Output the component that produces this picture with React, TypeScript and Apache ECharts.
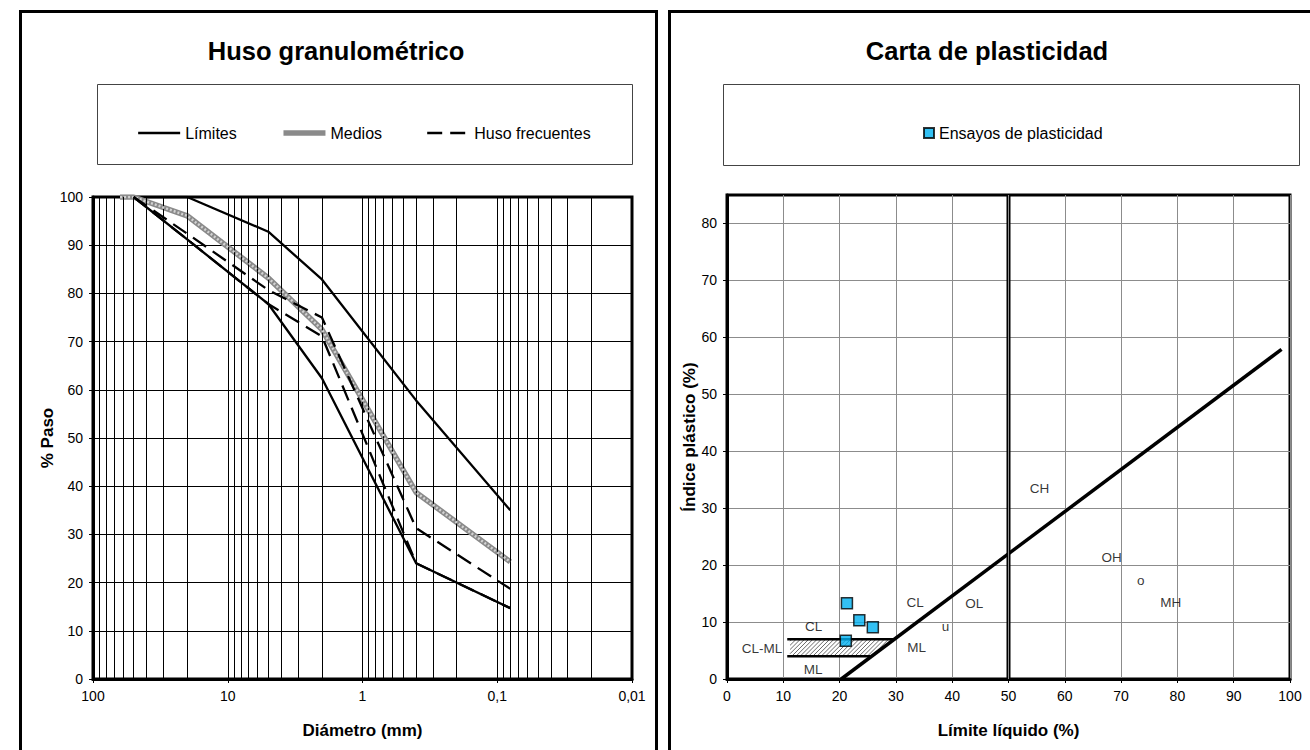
import React, { useEffect, useRef } from "react";
import * as echarts from "echarts";

// ---------------- Huso granulométrico ----------------
const diamGridLines = [
  90, 80, 70, 60, 50, 40, 30, 20, 10,
  9, 8, 7, 6, 5, 4, 3, 2, 1,
  0.9, 0.8, 0.7, 0.6, 0.5, 0.4, 0.3, 0.2, 0.1,
  0.09, 0.08, 0.07, 0.06, 0.05, 0.04, 0.03, 0.02,
];

const limSupDiam = [50, 20, 5, 2, 0.4, 0.08];
const limSupPaso = [100, 100, 92.8, 82.9, 57.8, 35.0];
const limInfDiam = [50, 20, 5, 2, 0.4, 0.08];
const limInfPaso = [100, 91.2, 77.8, 62.4, 24.0, 14.7];
const mediosDiam = [63, 50, 20, 5, 2, 0.4, 0.08];
const mediosPaso = [100, 100, 96.1, 83.2, 72.5, 38.7, 24.3];
const frecSupDiam = [50, 20, 5, 2, 0.4, 0.08];
const frecSupPaso = [100, 92.4, 80.7, 75.0, 31.3, 18.7];
const frecInfDiam = [50, 20, 5, 2, 0.4, 0.08];
const frecInfPaso = [100, 91.2, 77.8, 71.1, 24.0, 14.7];

// ---------------- Carta de plasticidad ----------------
const ensayosLL = [21.3, 23.5, 25.9, 21.1];
const ensayosIP = [13.3, 10.3, 9.1, 6.7];
const lineaALL = [20.3, 98.5];
const lineaAIP = [0, 57.9];
const ll50LL = [50, 50];
const ll50IP = [0, 85];
const clmlSupLL = [10.7, 29.6];
const clmlSupIP = [7, 7];
const clmlInfLL = [10.7, 25.5];
const clmlInfIP = [4, 4];
const hatchLL = [11.2, 25.5, 29.6, 11.2];
const hatchIP = [4, 4, 7, 7];
const zoneNames = ["CL", "OL", "u", "ML", "CH", "OH", "o", "MH", "CL", "CL-ML", "ML"];
const zoneLL = [33.4, 43.9, 38.8, 33.7, 55.5, 68.3, 73.5, 78.8, 15.4, 6.2, 15.3];
const zoneIP = [13.4, 13.3, 9.2, 5.5, 33.5, 21.4, 17.3, 13.5, 9.2, 5.4, 1.6];
const ipTicks = [0, 10, 20, 30, 40, 50, 60, 70, 80];

const FONT = "'Liberation Sans', Arial, Helvetica, sans-serif";

const zip = (a: number[], b: number[]) => a.map((v, i) => [v, b[i]]);

function clipToPoly(p0: number[], p1: number[], poly: number[][]) {
  const n = poly.length;
  let area = 0;
  for (let i = 0; i < n; i++) {
    const a = poly[i];
    const b = poly[(i + 1) % n];
    area += a[0] * b[1] - b[0] * a[1];
  }
  const s = area > 0 ? 1 : -1;
  let t0 = 0;
  let t1 = 1;
  const dx = p1[0] - p0[0];
  const dy = p1[1] - p0[1];
  for (let i = 0; i < n; i++) {
    const a = poly[i];
    const b = poly[(i + 1) % n];
    const ex = b[0] - a[0];
    const ey = b[1] - a[1];
    const num = s * (ex * (p0[1] - a[1]) - ey * (p0[0] - a[0]));
    const den = s * (ex * dy - ey * dx);
    if (Math.abs(den) < 1e-9) {
      if (num < 0) return null;
      continue;
    }
    const t = -num / den;
    if (den > 0) t0 = Math.max(t0, t);
    else t1 = Math.min(t1, t);
    if (t0 > t1) return null;
  }
  return [
    [p0[0] + t0 * dx, p0[1] + t0 * dy],
    [p0[0] + t1 * dx, p0[1] + t1 * dy],
  ];
}

const fmtDiam = (v: number) => {
  const s = v >= 1 ? String(Math.round(v)) : String(parseFloat(v.toPrecision(3)));
  return s.replace(".", ",");
};

export default function App() {
  const ref = useRef<HTMLDivElement>(null);

  useEffect(() => {
    if (!ref.current) return;
    const chart = echarts.init(ref.current, undefined, { renderer: "svg" });

    const axisLabelStyle = { color: "#000", fontSize: 14, fontFamily: FONT };
    const axisNameStyle = { color: "#000", fontSize: 17, fontWeight: "bold" as const, fontFamily: FONT };

    const option: any = {
      animation: false,
      backgroundColor: "#fff",
      textStyle: { fontFamily: FONT, color: "#000" },
      graphic: [
        { type: "rect", shape: { x: 20.5, y: 11.5, width: 636, height: 740 }, style: { fill: "none", stroke: "#000", lineWidth: 3 }, silent: true },
        { type: "rect", shape: { x: 669.5, y: 11.5, width: 660, height: 740 }, style: { fill: "none", stroke: "#000", lineWidth: 3 }, silent: true },
        { type: "rect", shape: { x: 97.5, y: 84.5, width: 535, height: 80 }, style: { fill: "none", stroke: "#444", lineWidth: 1 }, silent: true },
        { type: "rect", shape: { x: 723.5, y: 84.5, width: 576, height: 81 }, style: { fill: "none", stroke: "#444", lineWidth: 1 }, silent: true },
        { type: "text", x: 336, y: 51, style: { text: "Huso granulométrico", fill: "#000", fontSize: 25.5, fontWeight: "bold", fontFamily: FONT, align: "center", verticalAlign: "middle" } },
        { type: "text", x: 987, y: 51, style: { text: "Carta de plasticidad", fill: "#000", fontSize: 25.5, fontWeight: "bold", fontFamily: FONT, align: "center", verticalAlign: "middle" } },
      ],
      legend: [
        {
          left: 137,
          top: 125,
          padding: 0,
          itemWidth: 42,
          itemHeight: 14,
          itemGap: 44,
          data: [
            { name: "Límites", lineStyle: { color: "#000", width: 2.3, type: "solid" } },
            { name: "Medios", lineStyle: { color: "#8a8a8a", width: 5.5, type: "solid" } },
            { name: "Huso frecuentes", lineStyle: { color: "#000", width: 2.3, type: [15, 8] } },
          ],
          itemStyle: { opacity: 0 },
          textStyle: { color: "#000", fontSize: 16, fontFamily: FONT },
          selectedMode: false,
        },
        {
          left: 923,
          top: 125,
          padding: 0,
          itemWidth: 10,
          itemHeight: 10,
          icon: "rect",
          data: ["Ensayos de plasticidad"],
          textStyle: { color: "#000", fontSize: 16, fontFamily: FONT },
          selectedMode: false,
        },
      ],
      grid: [
        { left: 93, top: 197, width: 539, height: 482, show: true, borderColor: "#000", borderWidth: 3, backgroundColor: "transparent" },
        { left: 727, top: 195, width: 563, height: 484, show: true, borderColor: "#000", borderWidth: 3, backgroundColor: "transparent" },
      ],
      xAxis: [
        {
          gridIndex: 0,
          type: "log",
          logBase: 10,
          min: 0.01,
          max: 100,
          inverse: true,
          axisLine: { show: true, lineStyle: { color: "#000", width: 3 } },
          axisTick: { show: true, length: 4, lineStyle: { color: "#000", width: 1 } },
          splitLine: { show: false },
          minorTick: { show: false },
          axisLabel: { ...axisLabelStyle, margin: 10, formatter: fmtDiam },
          name: "Diámetro (mm)",
          nameLocation: "middle",
          nameGap: 43,
          nameTextStyle: axisNameStyle,
        },
        {
          gridIndex: 1,
          type: "value",
          min: 0,
          max: 100,
          interval: 10,
          axisLine: { show: true, lineStyle: { color: "#000", width: 3 } },
          axisTick: { show: true, length: 4, lineStyle: { color: "#000", width: 1 } },
          splitLine: { show: true, lineStyle: { color: "#8c8c8c", width: 1 } },
          axisLabel: { ...axisLabelStyle, margin: 10 },
          name: "Límite líquido (%)",
          nameLocation: "middle",
          nameGap: 43,
          nameTextStyle: axisNameStyle,
        },
      ],
      yAxis: [
        {
          gridIndex: 0,
          type: "value",
          min: 0,
          max: 100,
          interval: 10,
          axisLine: { show: true, lineStyle: { color: "#000", width: 3 } },
          axisTick: { show: true, length: 4, lineStyle: { color: "#000", width: 1 } },
          splitLine: { show: true, lineStyle: { color: "#000", width: 1 } },
          axisLabel: { ...axisLabelStyle, margin: 10 },
          name: "% Paso",
          nameLocation: "middle",
          nameGap: 27,
          nameTextStyle: axisNameStyle,
        },
        {
          gridIndex: 1,
          type: "value",
          min: 0,
          max: 85,
          interval: 10,
          axisLine: { show: true, lineStyle: { color: "#000", width: 3 } },
          axisTick: { show: true, length: 4, customValues: ipTicks, lineStyle: { color: "#000", width: 1 } },
          splitLine: { show: true, lineStyle: { color: "#8c8c8c", width: 1 } },
          axisLabel: { ...axisLabelStyle, margin: 10, customValues: ipTicks },
          name: "Índice plástico (%)",
          nameLocation: "middle",
          nameGap: 21,
          nameTextStyle: axisNameStyle,
        },
      ],
      series: [
        // vertical log grid
        {
          name: "grid-v",
          type: "line",
          xAxisIndex: 0,
          yAxisIndex: 0,
          data: [],
          z: 1,
          silent: true,
          markLine: {
            silent: true,
            symbol: ["none", "none"],
            label: { show: false },
            lineStyle: { color: "#000", width: 1, type: "solid" },
            emphasis: { disabled: true },
            data: diamGridLines.map((d) => ({ xAxis: d })),
          },
        },
        {
          name: "Límites",
          type: "line",
          xAxisIndex: 0,
          yAxisIndex: 0,
          data: zip(limSupDiam, limSupPaso),
          symbol: "none",
          lineStyle: { color: "#000", width: 2.3 },
          itemStyle: { color: "#000" },
          z: 3,
        },
        {
          name: "Límites",
          type: "line",
          xAxisIndex: 0,
          yAxisIndex: 0,
          data: zip(limInfDiam, limInfPaso),
          symbol: "none",
          lineStyle: { color: "#000", width: 2.3 },
          itemStyle: { color: "#000" },
          z: 3,
        },
        {
          name: "Medios",
          type: "line",
          xAxisIndex: 0,
          yAxisIndex: 0,
          data: zip(mediosDiam, mediosPaso),
          symbol: "none",
          lineStyle: { color: "#8a8a8a", width: 5.5 },
          itemStyle: { color: "#8a8a8a" },
          z: 4,
        },
        {
          name: "medios-textura",
          type: "line",
          xAxisIndex: 0,
          yAxisIndex: 0,
          data: zip(mediosDiam, mediosPaso),
          symbol: "none",
          silent: true,
          lineStyle: { color: "#d2d2d2", width: 2.5, type: [2, 2] },
          itemStyle: { color: "#d2d2d2" },
          z: 5,
        },
        {
          name: "Huso frecuentes",
          type: "line",
          xAxisIndex: 0,
          yAxisIndex: 0,
          data: zip(frecSupDiam, frecSupPaso),
          symbol: "none",
          lineStyle: { color: "#000", width: 2.3, type: [16, 8] },
          itemStyle: { color: "#000" },
          z: 6,
        },
        {
          name: "Huso frecuentes",
          type: "line",
          xAxisIndex: 0,
          yAxisIndex: 0,
          data: zip(frecInfDiam, frecInfPaso),
          symbol: "none",
          lineStyle: { color: "#000", width: 2.3, type: [16, 8] },
          itemStyle: { color: "#000" },
          z: 6,
        },
        // --- plasticity chart ---
        {
          name: "hatch",
          type: "custom",
          xAxisIndex: 1,
          yAxisIndex: 1,
          silent: true,
          z: 3,
          data: [[hatchLL[0], hatchIP[0]]],
          renderItem: (_params: any, api: any) => {
            const poly = hatchLL.map((ll, i) => api.coord([ll, hatchIP[i]]));
            const sums = poly.map((p: number[]) => p[0] + p[1]);
            const ys = poly.map((p: number[]) => p[1]);
            const yTop = Math.min(...ys) - 2;
            const yBot = Math.max(...ys) + 2;
            const minC = Math.min(...sums);
            const maxC = Math.max(...sums);
            const children: any[] = [
              { type: "polygon", shape: { points: poly }, style: { fill: "#fff", stroke: null } },
            ];
            for (let c = minC + 2; c < maxC; c += 4.2) {
              const seg = clipToPoly([c - yBot, yBot], [c - yTop, yTop], poly);
              if (seg) {
                children.push({
                  type: "line",
                  shape: { x1: seg[0][0], y1: seg[0][1], x2: seg[1][0], y2: seg[1][1] },
                  style: { stroke: "#6a6a6a", lineWidth: 1 },
                });
              }
            }
            return { type: "group", children };
          },
        },
        {
          name: "clml-sup",
          type: "line",
          xAxisIndex: 1,
          yAxisIndex: 1,
          data: zip(clmlSupLL, clmlSupIP),
          symbol: "none",
          silent: true,
          lineStyle: { color: "#000", width: 2.5 },
          z: 4,
        },
        {
          name: "clml-inf",
          type: "line",
          xAxisIndex: 1,
          yAxisIndex: 1,
          data: zip(clmlInfLL, clmlInfIP),
          symbol: "none",
          silent: true,
          lineStyle: { color: "#000", width: 2.5 },
          z: 4,
        },
        {
          name: "linea-A",
          type: "line",
          xAxisIndex: 1,
          yAxisIndex: 1,
          data: zip(lineaALL, lineaAIP),
          symbol: "none",
          silent: true,
          lineStyle: { color: "#000", width: 3.5 },
          z: 5,
        },
        {
          name: "ll50",
          type: "line",
          xAxisIndex: 1,
          yAxisIndex: 1,
          data: zip(ll50LL, ll50IP),
          symbol: "none",
          silent: true,
          lineStyle: { color: "#000", width: 4 },
          z: 5,
        },
        {
          name: "ll50-inner",
          type: "line",
          xAxisIndex: 1,
          yAxisIndex: 1,
          data: zip(ll50LL, ll50IP),
          symbol: "none",
          silent: true,
          lineStyle: { color: "#8c8c8c", width: 1 },
          z: 6,
        },
        {
          name: "zonas",
          type: "scatter",
          xAxisIndex: 1,
          yAxisIndex: 1,
          symbolSize: 0,
          silent: true,
          data: zoneNames.map((n, i) => ({ name: n, value: [zoneLL[i], zoneIP[i]] })),
          label: { show: true, position: "inside", formatter: "{b}", color: "#000", fontSize: 13.5, fontFamily: FONT },
          z: 7,
        },
        {
          name: "Ensayos de plasticidad",
          type: "scatter",
          xAxisIndex: 1,
          yAxisIndex: 1,
          symbol: "rect",
          symbolSize: 11,
          data: zip(ensayosLL, ensayosIP),
          itemStyle: { color: "#00b0f0", borderColor: "#000", borderWidth: 1.5 },
          z: 10,
        },
      ],
    };

    chart.setOption(option);
    return () => chart.dispose();
  }, []);

  return (
    <div
      ref={ref}
      style={{ position: "absolute", left: 0, top: 0, width: 1310, height: 750, background: "#fff" }}
    />
  );
}
